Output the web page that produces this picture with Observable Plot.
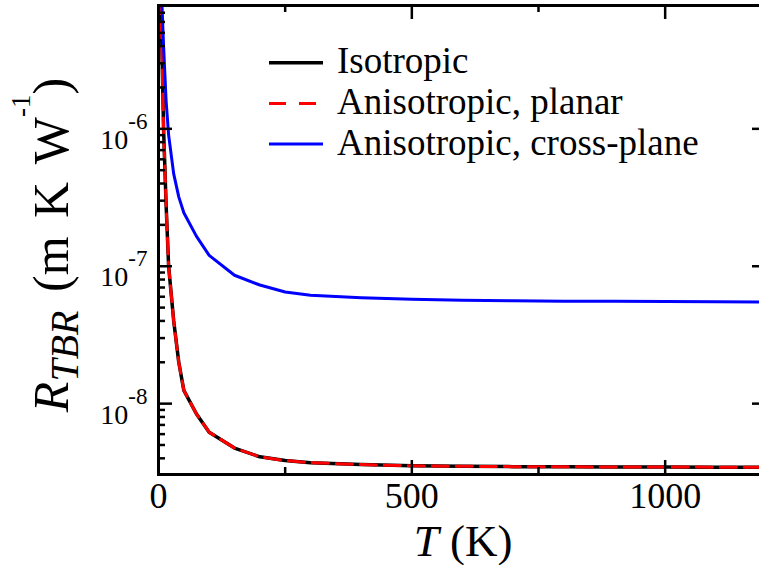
<!DOCTYPE html>
<html>
<head>
<meta charset="utf-8">
<script src="https://cdn.jsdelivr.net/npm/d3@7"></script>
<script src="https://cdn.jsdelivr.net/npm/@observablehq/plot@0.6"></script>
<style>
html, body { margin: 0; padding: 0; overflow: hidden; background: #fff; }
#chart svg { display: block; max-width: none !important; }
#chart svg text { font-family: "Liberation Serif", "Times New Roman", Times, "DejaVu Serif", serif !important; }
</style>
</head>
<body>
<div id="chart"></div>
<script>
// Temperature (K)
const temps = [2, 5, 10, 15, 20, 30, 40, 50, 75, 100, 150, 200, 250, 300, 400, 500, 600, 700, 800, 900, 1000, 1100, 1200];
// R_TBR (m K W^-1)
const isotropic = [1.0e-4, 8.0e-6, 1.0e-6, 2.8e-7, 1.0e-7, 4.0e-8, 2.0e-8, 1.25e-8, 8.4e-9, 6.2e-9, 4.75e-9, 4.1e-9, 3.85e-9, 3.72e-9, 3.6e-9, 3.53e-9, 3.5e-9, 3.48e-9, 3.47e-9, 3.46e-9, 3.46e-9, 3.45e-9, 3.45e-9];
const planar = [1.0e-4, 8.0e-6, 1.0e-6, 2.8e-7, 1.0e-7, 4.0e-8, 2.0e-8, 1.25e-8, 8.4e-9, 6.2e-9, 4.75e-9, 4.1e-9, 3.85e-9, 3.72e-9, 3.6e-9, 3.53e-9, 3.5e-9, 3.48e-9, 3.47e-9, 3.46e-9, 3.46e-9, 3.45e-9, 3.45e-9];
const crossPlane = [1.0e-4, 1.2e-5, 4.0e-6, 1.6e-6, 9.0e-7, 4.7e-7, 3.2e-7, 2.45e-7, 1.65e-7, 1.2e-7, 8.6e-8, 7.3e-8, 6.5e-8, 6.15e-8, 5.9e-8, 5.75e-8, 5.65e-8, 5.6e-8, 5.57e-8, 5.55e-8, 5.53e-8, 5.52e-8, 5.5e-8];

const seriesNames = ["Isotropic", "Anisotropic, planar", "Anisotropic, cross-plane"];
const xMajorTicks = [0, 500, 1000];
const xMinorTicks = [250, 750];
const yMajorTicks = [1e-8, 1e-7, 1e-6];
const xDomain = [0, 1200];
const yDomain = [3.05e-9, 7.9e-6];

const rows = (vals) => temps.map((t, i) => ({T: t, R: vals[i]}));

// minor log ticks
const yMinorTicks = [];
for (let e = -9; e <= -6; e++) for (let m = 2; m <= 9; m++) {
  const v = m * Math.pow(10, e);
  if (v > yDomain[0] && v < yDomain[1]) yMinorTicks.push(v);
}

const W = 772, H = 565, mL = 158, mR = 6, mT = 5, mB = 91;
const iw = W - mL - mR, ih = H - mT - mB;
const FONT = "'Liberation Serif', 'Times New Roman', Times, 'DejaVu Serif', serif";

const plot = Plot.plot({
  width: W, height: H,
  marginLeft: mL, marginRight: mR, marginTop: mT, marginBottom: mB,
  style: {fontFamily: FONT, background: "white", color: "black", overflow: "visible", maxWidth: "none"},
  x: {domain: xDomain},
  y: {type: "log", domain: yDomain},
  marks: [
    Plot.line(rows(isotropic), {x: "T", y: "R", stroke: "black", strokeWidth: 3.5, clip: true}),
    Plot.line(rows(planar), {x: "T", y: "R", stroke: "#ff0000", strokeWidth: 3, strokeDasharray: "16,8", clip: true}),
    Plot.line(rows(crossPlane), {x: "T", y: "R", stroke: "#0000ff", strokeWidth: 3, clip: true}),
    // inward ticks bottom/top
    Plot.ruleX(xMajorTicks, {insetTop: ih - 14, strokeWidth: 2.5}),
    Plot.ruleX(xMinorTicks, {insetTop: ih - 7, strokeWidth: 2.5}),
    Plot.ruleX(xMajorTicks, {insetBottom: ih - 14, strokeWidth: 2.5}),
    Plot.ruleX(xMinorTicks, {insetBottom: ih - 7, strokeWidth: 2.5}),
    // inward ticks left/right
    Plot.ruleY(yMajorTicks, {insetRight: iw - 14, strokeWidth: 2.5}),
    Plot.ruleY(yMinorTicks, {insetRight: iw - 7, strokeWidth: 2.5}),
    Plot.ruleY(yMajorTicks, {insetLeft: iw - 14, strokeWidth: 2.5}),
    Plot.ruleY(yMinorTicks, {insetLeft: iw - 7, strokeWidth: 2.5}),
    Plot.axisX({ticks: xMajorTicks, tickSize: 0, tickPadding: 8, fontSize: 36, label: null, tickFormat: d => String(d)}),
    Plot.axisY({ticks: yMajorTicks, tickSize: 0, tickPadding: 11, fontSize: 28, dy: 11, label: null,
      tickFormat: d => "10^" + Math.round(Math.log10(d))}),
    Plot.frame({stroke: "black", strokeWidth: 3})
  ]
});

document.getElementById("chart").appendChild(plot);
const svg = d3.select(plot);

// superscript exponents on y tick labels
svg.selectAll('g[aria-label="y-axis tick label"] text').each(function() {
  const s = this.textContent;
  const parts = s.split("^");
  if (parts.length === 2) {
    this.textContent = parts[0];
    d3.select(this).append("tspan").attr("dy", -20).attr("font-size", 23).text(parts[1]);
  }
});

// x axis title
const xt = svg.append("text")
  .attr("x", 463).attr("y", 556)
  .attr("text-anchor", "middle")
  .attr("font-family", FONT).attr("font-size", 45).attr("fill", "black");
xt.append("tspan").attr("font-style", "italic").text("T");
xt.append("tspan").text(" (K)");

// y axis title
const yt = svg.append("text")
  .attr("transform", "translate(68,245) rotate(-90)")
  .attr("text-anchor", "middle")
  .attr("font-family", FONT).attr("font-size", 50).attr("fill", "black")
  .attr("word-spacing", 6);
yt.append("tspan").attr("font-style", "italic").text("R");
yt.append("tspan").attr("font-style", "italic").attr("font-size", 40).attr("dy", 10).text("TBR");
yt.append("tspan").attr("dy", -10).text(" (m K W");
yt.append("tspan").attr("font-size", 27).attr("dy", -38).text("-1");
yt.append("tspan").attr("dy", 38).text(")");

// legend
const legendItems = [
  {name: seriesNames[0], stroke: "black", dash: null, width: 3.5},
  {name: seriesNames[1], stroke: "#ff0000", dash: "17,13", width: 3},
  {name: seriesNames[2], stroke: "#0000ff", dash: null, width: 3}
];
const lg = svg.append("g");
legendItems.forEach((it, i) => {
  const cy = 62.7 + i * 40.7;
  lg.append("line").attr("x1", 269).attr("x2", 323).attr("y1", cy).attr("y2", cy)
    .attr("stroke", it.stroke).attr("stroke-width", it.width)
    .attr("stroke-dasharray", it.dash);
  lg.append("text").attr("x", 337).attr("y", cy + 10.5)
    .attr("text-anchor", "start")
    .attr("font-family", FONT).attr("font-size", 37).attr("fill", "black")
    .text(it.name);
});
</script>
</body>
</html>
